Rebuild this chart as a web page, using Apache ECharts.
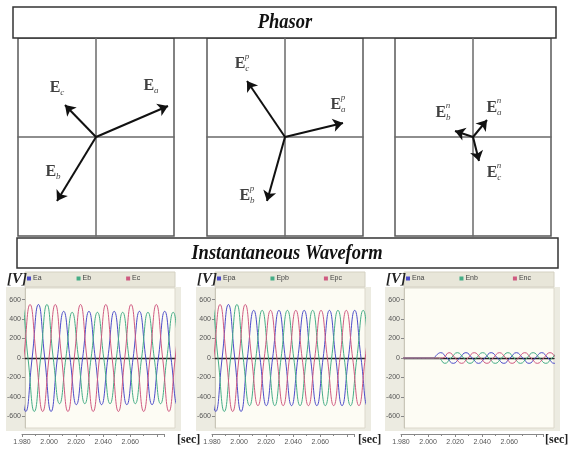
<!DOCTYPE html>
<html>
<head>
<meta charset="utf-8">
<script src="https://cdn.jsdelivr.net/npm/echarts@6/dist/echarts.min.js"></script>
<style>
  html, body { margin: 0; padding: 0; background: #fff; }
  #main { width: 570px; height: 451px; }
</style>
</head>
<body>
<div id="main"></div>
<script>
// ---- phasor tips (a, b, c), same arbitrary unit per panel ----
var phasorE  = [[72, 31], [-39, -64], [-31, 32]];
var phasorEp = [[58, 14], [-18, -64], [-38, 56]];
var phasorEn = [[14, 17], [-18, 6], [6, -24]];
var phaseLetters = ['a', 'b', 'c'];

// ---- waveforms: signed peak of each half cycle, time of the first one ----
var HALF = 1 / 120; // half period at 60 Hz
var eaStart = 1.9722, ebStart = 1.9778, ecStart = 1.975;
var eaPeaks = [550, -550, 550, -550, 480, -480, 480, -480, 480, -480, 480, -480, 480, -480];
var ebPeaks = [550, -550, 550, -470, 470, -470, 470, -470, 470, -470, 470, -470, 470, -470];
var ecPeaks = [-550, 550, -550, 550, -550, 550, -550, 550, -550, 550, -550, 550, -550, 550];

var epaPeaks = [550, -550, 550, -550, 490, -490, 490, -490, 490, -490, 490, -490, 490, -490];
var epbPeaks = [550, -550, 550, -490, 490, -490, 490, -490, 490, -490, 490, -490, 490, -490];
var epcPeaks = [-550, 550, -550, 550, -490, 490, -490, 490, -490, 490, -490, 490, -490, 490];

var faultTime = 2.000;
var enaStart = 2.0042, enbStart = 2.0069, encStart = 2.0097;
var enaPeaks = [55, -55, 55, -55, 55, -55, 55, -55, 55, -55, 55];
var enbPeaks = [-55, 55, -55, 55, -55, 55, -55, 55, -55, 55, -55];
var encPeaks = [55, -55, 55, -55, 55, -55, 55, -55, 55, -55];

var yTicks = [-600, -400, -200, 0, 200, 400, 600];
var waveNames = [['Ea', 'Eb', 'Ec'], ['Epa', 'Epb', 'Epc'], ['Ena', 'Enb', 'Enc']];
var waveColors = ['#4c4cc9', '#45ad86', '#cf5a80'];

// label placement around arrow tips (pixels), order a, b, c
var labelShift = [
	[[-17, -20], [-4, -29], [-8, -17]],
	[[-5, -18], [-20, -5], [-5, -17]],
	[[7, -12], [-12, -18], [15, 12]]
];

function wave(start, peaks, quietUntil) {
	var pts = quietUntil ? [[1.97, 0], [quietUntil, 0]] : [];
	peaks.forEach(function(v, k) {
		var t = start + k * HALF;
		pts.push([t - HALF / 2, 0], [t, v]);
	});
	pts.push([start + (peaks.length - 0.5) * HALF, 0]);
	return pts;
}

var waves = [
	[wave(eaStart, eaPeaks), wave(ebStart, ebPeaks), wave(ecStart, ecPeaks)],
	[wave(eaStart, epaPeaks), wave(ebStart, epbPeaks), wave(ecStart, epcPeaks)],
	[wave(enaStart, enaPeaks, faultTime), wave(enbStart, enbPeaks, faultTime), wave(encStart, encPeaks, faultTime)]
];
var phasors = [phasorE, phasorEp, phasorEn];
var supers = ['', 'p', 'n'];

var phLeft = [18, 207, 395];
var wvLeft = [25, 215, 404];
var secShift = [152, 143, 141];
var serif = '"Liberation Serif", "DejaVu Serif", serif';

var myChart = echarts.init(document.getElementById('main'));
var grid = [], xAxis = [], yAxis = [], series = [], legend = [], graphic = [];

// phasor panels
phasors.forEach(function(ph, i) {
	grid.push({ left: phLeft[i], top: 38, width: 156, height: 198, show: true,
		backgroundColor: '#fff', borderColor: '#5a5a5a', borderWidth: 1.5 });
	xAxis.push({ type: 'value', gridIndex: i, min: -78, max: 78,
		axisLine: { onZero: true, lineStyle: { color: '#6a6a6a', width: 1.5 } },
		axisTick: { show: false }, axisLabel: { show: false }, splitLine: { show: false } });
	yAxis.push({ type: 'value', gridIndex: i, min: -99, max: 99,
		axisLine: { onZero: true, lineStyle: { color: '#6a6a6a', width: 1.5 } },
		axisTick: { show: false }, axisLabel: { show: false }, splitLine: { show: false } });
	series.push({
		type: 'lines', coordinateSystem: 'cartesian2d', xAxisIndex: i, yAxisIndex: i,
		symbol: ['none', 'arrow'], symbolSize: 10, silent: true, z: 5,
		lineStyle: { color: '#111', width: 2, opacity: 1 },
		data: ph.map(function(p) { return { coords: [[0, 0], p] }; })
	});
	series.push({
		type: 'scatter', xAxisIndex: i, yAxisIndex: i, symbolSize: 1, silent: true, z: 6,
		itemStyle: { color: 'rgba(0,0,0,0)' },
		data: ph.map(function(p, k) {
			return { value: p, label: { offset: labelShift[i][k],
				formatter: '{e|E}{s|' + phaseLetters[k] + '}' } };
		}),
		label: { show: true, position: 'inside',
			rich: {
				e: { fontFamily: serif, fontWeight: 'bold', fontSize: 16, color: '#111', lineHeight: 18 },
				s: { fontFamily: serif, fontStyle: 'italic', fontSize: 9, color: '#111', lineHeight: 8, verticalAlign: 'bottom' }
			} }
	});
	if (supers[i]) {
		series.push({
			type: 'scatter', xAxisIndex: i, yAxisIndex: i, symbolSize: 1, silent: true, z: 6,
			itemStyle: { color: 'rgba(0,0,0,0)' },
			data: ph.map(function(p, k) {
				return { value: p, label: { offset: [labelShift[i][k][0] + 5, labelShift[i][k][1] - 7] } };
			}),
			label: { show: true, position: 'inside', formatter: supers[i],
				fontFamily: serif, fontStyle: 'italic', fontSize: 9, color: '#111' }
		});
	}
});

// waveform panels
waves.forEach(function(set, i) {
	var g = 3 + i;
	grid.push({ left: wvLeft[i], top: 288, width: 150, height: 140, show: true,
		backgroundColor: '#fdfcf4', borderColor: '#dcd9cc', borderWidth: 1 });
	xAxis.push({ type: 'value', gridIndex: g, min: 1.98, max: 2.079,
		axisLine: { onZero: true, lineStyle: { color: '#222', width: 1.3 } },
		axisTick: { show: false }, axisLabel: { show: false }, splitLine: { show: false } });
	yAxis.push({ type: 'value', gridIndex: g, min: -720, max: 720,
		axisLine: { show: true, onZero: false, lineStyle: { color: '#c9c6b8' } },
		axisTick: { show: true, length: 3, customValues: yTicks, lineStyle: { color: '#888' } },
		axisLabel: { customValues: yTicks, fontSize: 7, color: '#555', margin: 4, fontFamily: 'Arial, sans-serif' },
		splitLine: { show: false } });
	set.forEach(function(d, k) {
		series.push({ name: waveNames[i][k], type: 'line', xAxisIndex: g, yAxisIndex: g,
			data: d, smooth: 0.5, showSymbol: false, silent: true, clip: true,
			lineStyle: { color: waveColors[k], width: 1 }, itemStyle: { color: waveColors[k] } });
	});
	legend.push({ left: wvLeft[i] + 2, top: 275, itemGap: 35, itemWidth: 4, itemHeight: 4,
		icon: 'rect', selectedMode: false, padding: 0,
		textStyle: { fontSize: 7, color: '#444', padding: [0, 0, 0, -3] },
		data: waveNames[i] });
	// beige frame, legend band, unit labels
	graphic.push({ type: 'rect', z: -10, shape: { x: wvLeft[i] - 19, y: 287, width: 175, height: 144 },
		style: { fill: '#ecebe1' } });
	graphic.push({ type: 'rect', z: -10, shape: { x: wvLeft[i], y: 272, width: 150, height: 15 },
		style: { fill: '#e8e6d9', stroke: '#d4d1c2', lineWidth: 1 } });
	graphic.push({ type: 'text', x: wvLeft[i] - 18, y: 272,
		style: { text: '[V]', font: 'bold italic 15px ' + serif, fill: '#222' } });
	graphic.push({ type: 'text', x: wvLeft[i] + secShift[i], y: 434,
		style: { text: '[sec]', font: 'bold 12px ' + serif, fill: '#222' } });
});

// time rulers under the waveforms
wvLeft.forEach(function(l, i) {
	var g = 6 + i;
	grid.push({ left: l - 3, top: 433, width: 142, height: 1 });
	xAxis.push({ type: 'value', gridIndex: g, min: 1.98, max: 2.085, interval: 0.02, position: 'bottom',
		axisLine: { lineStyle: { color: '#888' } },
		axisTick: { length: 3, lineStyle: { color: '#888' } },
		minorTick: { show: true, splitNumber: 2, length: 2, lineStyle: { color: '#888' } },
		axisLabel: { fontSize: 7, color: '#555', margin: 5, showMaxLabel: false, fontFamily: 'Arial, sans-serif',
			formatter: function(v) { return v > 2.07 ? '' : v.toFixed(3); } },
		splitLine: { show: false } });
	yAxis.push({ type: 'value', gridIndex: g, show: false });
});

// section title boxes
graphic.push({ type: 'rect', shape: { x: 13, y: 7, width: 543, height: 31 },
	style: { fill: '#fff', stroke: '#333', lineWidth: 1.5 } });
graphic.push({ type: 'text', x: 285, y: 22, scaleX: 0.84,
	style: { text: 'Phasor', font: 'bold italic 22px ' + serif, fill: '#111', align: 'center', verticalAlign: 'middle' } });
graphic.push({ type: 'rect', shape: { x: 17, y: 238, width: 541, height: 30 },
	style: { fill: '#fff', stroke: '#333', lineWidth: 1.5 } });
graphic.push({ type: 'text', x: 287, y: 253, scaleX: 0.84,
	style: { text: 'Instantaneous Waveform', font: 'bold italic 22px ' + serif, fill: '#111', align: 'center', verticalAlign: 'middle' } });

var option = {
	animation: false,
	grid: grid,
	xAxis: xAxis,
	yAxis: yAxis,
	legend: legend,
	graphic: graphic,
	series: series
};
myChart.setOption(option);
</script>
</body>
</html>
